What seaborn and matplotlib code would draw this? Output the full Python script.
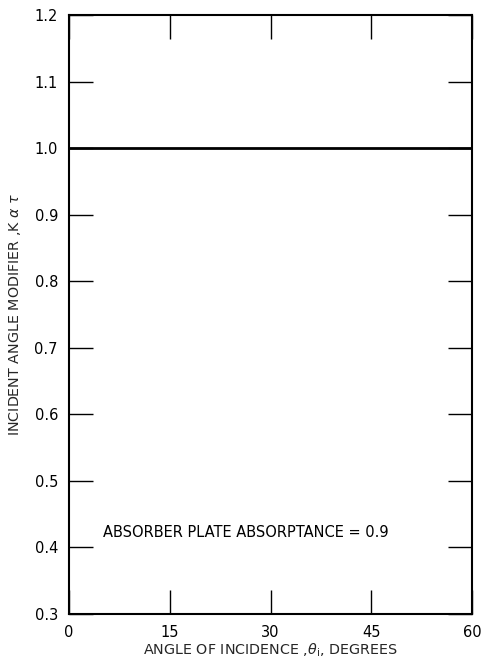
import matplotlib
matplotlib.use("Agg")
import matplotlib.pyplot as plt
import seaborn as sns
import pandas as pd

angle_deg = [0, 60]
modifier = [1.0, 1.0]
x_ticks = [0, 15, 30, 45, 60]
y_ticks = [0.3, 0.4, 0.5, 0.6, 0.7, 0.8, 0.9, 1.0, 1.1, 1.2]
note_text = "ABSORBER PLATE ABSORPTANCE = 0.9"
x_label = r"ANGLE OF INCIDENCE ,$\theta_{\rm i}$, DEGREES"
y_label = r"INCIDENT ANGLE MODIFIER ,K $\alpha$ $\tau$"

sns.set_style("white")
plt.rcParams["font.family"] = ["DejaVu Sans"]
plt.rcParams["mathtext.fontset"] = "dejavusans"

fig = plt.figure(figsize=(4.84, 6.58), dpi=100)
ax = fig.add_axes([69 / 484, 1 - 614 / 658, (472 - 69) / 484, (614 - 15) / 658])

df = pd.DataFrame({"angle": angle_deg, "mod": modifier})
sns.lineplot(data=df, x="angle", y="mod", ax=ax, color="black", linewidth=2.0)

ax.set_xlim(0, 60)
ax.set_ylim(0.3, 1.2)
ax.set_xticks(x_ticks)
ax.set_yticks(y_ticks)
ax.set_xticklabels([str(v) for v in x_ticks], fontsize=10.5)
ax.set_yticklabels([f"{v:.1f}" for v in y_ticks], fontsize=10.5)
ax.tick_params(axis="both", direction="in", length=17, width=1.0, color="black",
               top=True, right=True, bottom=True, left=True, labelcolor="black")
ax.tick_params(axis="x", pad=8)
ax.tick_params(axis="y", pad=8)
for s in ax.spines.values():
    s.set_color("black")
    s.set_linewidth(1.5)

ax.set_xlabel(x_label, fontsize=10.3, labelpad=1)
ax.set_ylabel(y_label, fontsize=10.3, labelpad=8)
ax.text(5.1, 0.423, note_text, fontsize=10.5, va="center", ha="left", color="black")

fig.savefig("out.png", dpi=100)
